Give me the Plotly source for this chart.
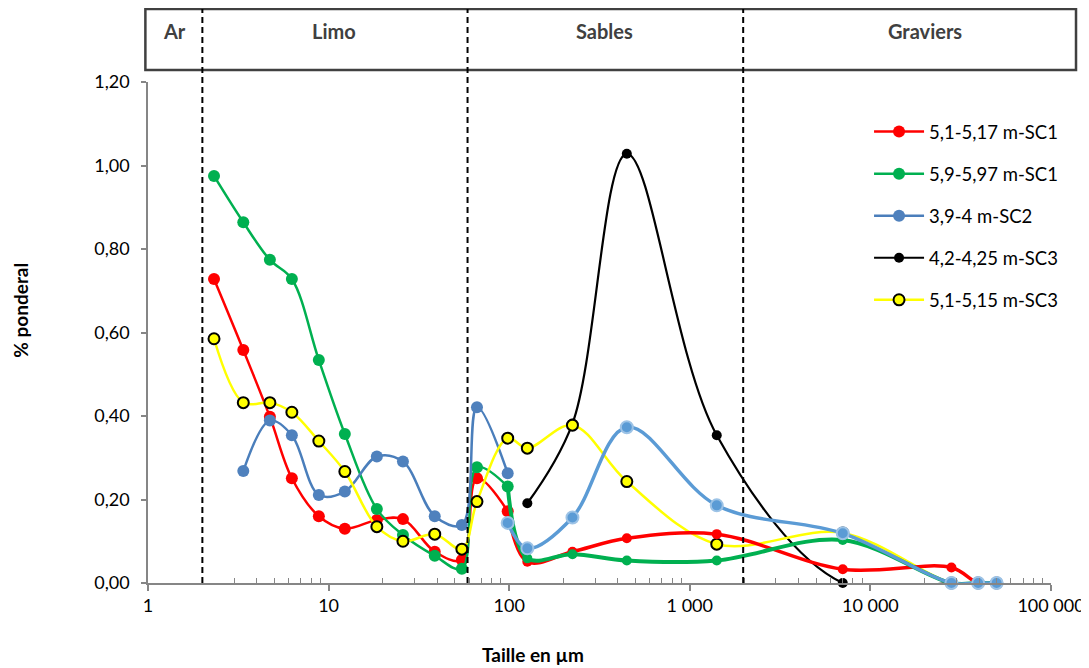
import plotly.graph_objects as go

# ---------------- data ----------------
sizes_fine = [2.32, 3.37, 4.73, 6.26, 8.83, 12.3, 18.5, 25.8, 38.7, 54.7, 66.3, 98.1]
sizes_coarse = [98.1, 126, 224, 448, 1410, 7030, 28100, 39500, 50000]
sizes_all = sizes_fine + sizes_coarse[1:]

red_fine = [0.728, 0.558, 0.398, 0.251, 0.160, 0.130, 0.151, 0.153, 0.075, 0.055, 0.251, 0.172]
red_coarse = [0.172, 0.051, 0.075, 0.107, 0.117, 0.033, 0.037, 0.0, 0.0]

green_fine = [0.975, 0.864, 0.774, 0.728, 0.534, 0.357, 0.177, 0.115, 0.065, 0.034, 0.277, 0.231]
green_coarse = [0.231, 0.059, 0.069, 0.054, 0.054, 0.103, 0.0, 0.0, 0.0]

sizes_sc2 = sizes_fine[1:]
blue_sc2 = [0.268, 0.389, 0.354, 0.211, 0.219, 0.303, 0.291, 0.160, 0.139, 0.421, 0.263]
lightblue_sc2 = [0.144, 0.083, 0.157, 0.373, 0.186, 0.119, 0.0, 0.0, 0.0]

sizes_black = sizes_coarse[1:]
black_sc3 = [0.191, 0.382, 1.028, 0.354, 0.0, 0.0, 0.0, 0.0]

yellow_sc3 = [0.585, 0.432, 0.432, 0.409, 0.340, 0.267, 0.135, 0.100, 0.117, 0.081, 0.195, 0.347,
              0.323, 0.378, 0.243, 0.093, 0.120, 0.0, 0.0, 0.0]

names = ["5,1-5,17 m-SC1", "5,9-5,97 m-SC1", "3,9-4 m-SC2", "4,2-4,25 m-SC3", "5,1-5,15 m-SC3"]

zone_bounds = [2, 58.8, 1975]
zone_labels = ["Ar", "Limo", "Sables", "Graviers"]

y_ticks = [0, 0.2, 0.4, 0.6, 0.8, 1.0, 1.2]
y_ticktext = ["0,00", "0,20", "0,40", "0,60", "0,80", "1,00", "1,20"]
x_ticks = [1, 10, 100, 1000, 10000, 100000]
x_ticktext = ["1", "10", "100", "1 000", "10 000", "100 000"]

FONT = "Lato"
fig = go.Figure()

def add(x, y, color, width, msize, name=None, show=False, group=None,
        mcolor=None, mline=None, mlw=0):
    fig.add_trace(go.Scatter(
        x=x, y=y, mode="lines+markers", name=name, showlegend=show,
        legendgroup=group,
        line=dict(color=color, width=width, shape="spline", smoothing=1.0),
        marker=dict(size=msize, color=mcolor or color,
                    line=dict(color=mline or color, width=mlw)),
        cliponaxis=False,
    ))

add(sizes_fine, red_fine, "#FF0000", 2.5, 12, names[0], True, "g1")
add(sizes_fine, green_fine, "#00B050", 2.5, 12, names[1], True, "g2")
add(sizes_sc2, blue_sc2, "#4A7EBB", 2.5, 12, names[2], True, "g3", mcolor="#4F81BD")
add(sizes_black, black_sc3, "#000000", 2.2, 10, names[3], True, "g4")
add(sizes_all, yellow_sc3, "#FFFF00", 2.5, 11, names[4], True, "g5", mline="#000000", mlw=2)
add(sizes_coarse, red_coarse, "#FF0000", 3.5, 10, group="g1")
add(sizes_coarse, green_coarse, "#00B050", 4, 10, group="g2")
add(sizes_coarse, lightblue_sc2, "#5B9BD5", 3.5, 12, group="g3", mline="#9DC3E6", mlw=2)

# top band box
fig.add_shape(type="rect", xref="paper", yref="paper",
              x0=-0.0029, x1=1.0277, y0=1.024, y1=1.1457,
              line=dict(color="#404040", width=2.5), fillcolor="rgba(0,0,0,0)")
for b in zone_bounds:
    fig.add_shape(type="line", xref="x", yref="paper", x0=b, x1=b, y0=0, y1=1.1457,
                  line=dict(color="#000000", width=2, dash="6px,4px"))

label_x = [0.0292, 0.2063, 0.5052, 0.860]
for lx, lab in zip(label_x, zone_labels):
    fig.add_annotation(xref="paper", yref="paper", x=lx, y=1.1018, text="<b>%s</b>" % lab,
                       xanchor="center", yanchor="middle",
                       showarrow=False, font=dict(family=FONT, size=20, color="#404040"))

fig.add_annotation(xref="paper", yref="paper", x=-0.141, y=0.545, text="<b>% ponderal</b>",
                   xanchor="center", yanchor="middle",
                   textangle=-90, showarrow=False, font=dict(family=FONT, size=19, color="#000000"))
fig.add_annotation(xref="paper", yref="paper", x=0.4266, y=-0.1437, text="<b>Taille en µm</b>",
                   xanchor="center", yanchor="middle",
                   showarrow=False, font=dict(family=FONT, size=19, color="#000000"))

minor_vals = [m * 10 ** d for d in range(0, 5) for m in range(2, 10)]

fig.update_layout(
    width=1081, height=660,
    margin=dict(l=139.6, r=38, t=74, b=85, autoexpand=False),
    paper_bgcolor="white", plot_bgcolor="white",
    font=dict(family=FONT, size=18, color="#000000"),
    legend=dict(x=0.7985, y=0.938, xanchor="left", yanchor="top",
                font=dict(family=FONT, size=18.5, color="#000000"),
                itemwidth=50,
                tracegroupgap=15, bgcolor="rgba(0,0,0,0)"),
    xaxis=dict(type="log", range=[0, 5], tickvals=x_ticks, ticktext=x_ticktext,
               showgrid=False, zeroline=False, showline=True, linecolor="#868686", linewidth=1.5,
               ticks="outside", ticklen=6, tickcolor="#868686", tickwidth=1.5,
               tickfont=dict(family=FONT, size=18, color="#000000"),
               minor=dict(tickvals=minor_vals, ticks="inside", ticklen=5,
                          tickcolor="#868686", tickwidth=1.2, showgrid=False)),
    yaxis=dict(range=[0, 1.2], tickvals=y_ticks, ticktext=y_ticktext,
               showgrid=False, zeroline=False, showline=True, linecolor="#868686", linewidth=1.5,
               ticks="outside", ticklen=5, tickcolor="#868686", tickwidth=1.5,
               ticklabelstandoff=8,
               tickfont=dict(family=FONT, size=18, color="#000000")),
)

fig.write_html("out.html")
